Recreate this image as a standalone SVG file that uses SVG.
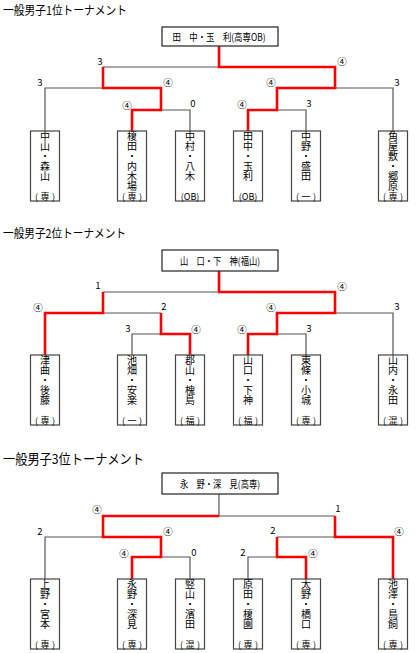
<svg xmlns="http://www.w3.org/2000/svg" width="420" height="653" viewBox="0 0 420 653">
<style>
text{font-family:"Noto Sans CJK JP","Noto Sans",sans-serif;fill:#000}
.title{font-size:12px}
.box{fill:#fff;stroke:#444;stroke-width:1.2}
.cbox{fill:#fff;stroke:#333;stroke-width:1.3}
.g{fill:none;stroke:#555;stroke-width:1.2}
.r{fill:none;stroke:#f00;stroke-width:2.6}
.v{font-size:10px;text-anchor:middle}
.lb{font-size:9px;text-anchor:middle}
.s{font-size:9.5px;text-anchor:middle}
.ch{font-size:10px;text-anchor:middle}
</style>
<rect width="420" height="653" fill="#fff"/>

<!-- Titles -->
<text class="title" x="3" y="14.5" textLength="124" lengthAdjust="spacingAndGlyphs">一般男子1位トーナメント</text>
<text class="title" x="3" y="238" textLength="123" lengthAdjust="spacingAndGlyphs">一般男子2位トーナメント</text>
<text class="title" x="3" y="464" style="font-size:13.5px" textLength="141" lengthAdjust="spacingAndGlyphs">一般男子3位トーナメント</text>

<!-- Connectors -->
<g id="connectors">
  <path class="g" d="M103,67H219 M45,131V88H103 M161,110H190V131 M335,88H393V131 M277,110H306V131"/>
  <path class="r" d="M132,131V110H161V88H103V67"/>
  <path class="r" d="M248,131V110H277V88H335V67H219V46"/>
  <path class="g" d="M103,292H219 M103,313H161 M132,355V334H161 M335,313H393V355 M277,334H306V355"/>
  <path class="r" d="M45,355V313H103V292"/>
  <path class="r" d="M190,355V334H161V313"/>
  <path class="r" d="M248,355V334H277V313H335V292H219V271"/>
  <path class="g" d="M219,494V516H335 M45,579V537H103 M161,557H190V579 M277,537H335 M248,579V557H277"/>
  <path class="r" d="M132,579V557H161V537H103V516H219"/>
  <path class="r" d="M306,579V557H277V537"/>
  <path class="r" d="M393,579V537H335V516"/>
</g>

<!-- Scores -->
<g id="scores">
  <text class="s" x="100" y="65">3</text><text class="s" x="342" y="64.5">④</text>
  <text class="s" x="40" y="86">3</text><text class="s" x="168" y="85.5">④</text>
  <text class="s" x="271" y="85.5">④</text><text class="s" x="397" y="86">3</text>
  <text class="s" x="127" y="108.5">④</text><text class="s" x="193" y="107">0</text>
  <text class="s" x="242" y="107.5">④</text><text class="s" x="309" y="107">3</text>

  <text class="s" x="98" y="289">1</text><text class="s" x="342" y="289.5">④</text>
  <text class="s" x="38" y="310.5">④</text><text class="s" x="164" y="310">2</text>
  <text class="s" x="271" y="310.5">④</text><text class="s" x="397" y="310">3</text>
  <text class="s" x="128" y="332">3</text><text class="s" x="196" y="332.5">④</text>
  <text class="s" x="242" y="332.5">④</text><text class="s" x="309" y="332">3</text>

  <text class="s" x="97" y="512.5">④</text><text class="s" x="338" y="512">1</text>
  <text class="s" x="40" y="535">2</text><text class="s" x="168" y="534.5">④</text>
  <text class="s" x="273" y="534">2</text><text class="s" x="399" y="534.5">④</text>
  <text class="s" x="124" y="556.5">④</text><text class="s" x="194" y="556">0</text>
  <text class="s" x="243" y="556">2</text><text class="s" x="313" y="556.5">④</text>
</g>

<!-- Champion boxes -->
<g id="champ1">
  <rect class="cbox" x="162" y="27" width="116" height="19"/>
  <text class="ch" x="219" y="40.5" textLength="93" lengthAdjust="spacingAndGlyphs">田　中・玉　利(高専OB)</text>
</g>
<g id="champ2">
  <rect class="cbox" x="162" y="250" width="116" height="21"/>
  <text class="ch" x="220" y="264.5" textLength="80" lengthAdjust="spacingAndGlyphs">山　口・下　神(福山)</text>
</g>
<g id="champ3">
  <rect class="cbox" x="162" y="473" width="116" height="21"/>
  <text class="ch" x="220" y="487.5" textLength="80" lengthAdjust="spacingAndGlyphs">永　野・深　見(高専)</text>
</g>

<!-- Bracket 1 players -->
<g id="b1p1" transform="translate(45,131)">
  <rect class="box" x="-14.5" y="0" width="29" height="70"/>
  <text class="v"><tspan x="0" y="8.8">中</tspan><tspan x="0" y="18.9">山</tspan><tspan x="0" y="29">・</tspan><tspan x="0" y="39.1">森</tspan><tspan x="0" y="49.2">山</tspan></text>
  <text class="lb" x="0" y="68.5" textLength="20" lengthAdjust="spacing">(専)</text>
</g>
<g id="b1p2" transform="translate(132,131)">
  <rect class="box" x="-14.5" y="0" width="29" height="70"/>
  <text class="v"><tspan x="0" y="8.8">榎</tspan><tspan x="0" y="18.9">田</tspan><tspan x="0" y="29">・</tspan><tspan x="0" y="39.1">内</tspan><tspan x="0" y="49.2">木</tspan><tspan x="0" y="59.3">場</tspan></text>
  <text class="lb" x="0" y="68.5" textLength="20" lengthAdjust="spacing">(専)</text>
</g>
<g id="b1p3" transform="translate(190,131)">
  <rect class="box" x="-14.5" y="0" width="29" height="70"/>
  <text class="v"><tspan x="0" y="8.8">中</tspan><tspan x="0" y="18.9">村</tspan><tspan x="0" y="29">・</tspan><tspan x="0" y="39.1">八</tspan><tspan x="0" y="49.2">木</tspan></text>
  <text class="lb" x="0" y="68.5">(OB)</text>
</g>
<g id="b1p4" transform="translate(248,131)">
  <rect class="box" x="-14.5" y="0" width="29" height="70"/>
  <text class="v"><tspan x="0" y="8.8">田</tspan><tspan x="0" y="18.9">中</tspan><tspan x="0" y="29">・</tspan><tspan x="0" y="39.1">玉</tspan><tspan x="0" y="49.2">利</tspan></text>
  <text class="lb" x="0" y="68.5">(OB)</text>
</g>
<g id="b1p5" transform="translate(306,131)">
  <rect class="box" x="-14.5" y="0" width="29" height="70"/>
  <text class="v"><tspan x="0" y="8.8">中</tspan><tspan x="0" y="18.9">野</tspan><tspan x="0" y="29">・</tspan><tspan x="0" y="39.1">盛</tspan><tspan x="0" y="49.2">田</tspan></text>
  <text class="lb" x="0" y="68.5" textLength="20" lengthAdjust="spacing">(一)</text>
</g>
<g id="b1p6" transform="translate(393,131)">
  <rect class="box" x="-14.5" y="0" width="29" height="70"/>
  <text class="v"><tspan x="0" y="8.8">角</tspan><tspan x="0" y="18.9">屋</tspan><tspan x="0" y="29">敷</tspan><tspan x="0" y="39.1">・</tspan><tspan x="0" y="49.2">郷</tspan><tspan x="0" y="59.3">原</tspan></text>
  <text class="lb" x="0" y="68.5" textLength="20" lengthAdjust="spacing">(専)</text>
</g>

<!-- Bracket 2 players -->
<g id="b2p1" transform="translate(45,355)">
  <rect class="box" x="-14.5" y="0" width="29" height="70"/>
  <text class="v"><tspan x="0" y="8.8">津</tspan><tspan x="0" y="18.9">曲</tspan><tspan x="0" y="29">・</tspan><tspan x="0" y="39.1">後</tspan><tspan x="0" y="49.2">藤</tspan></text>
  <text class="lb" x="0" y="68.5" textLength="20" lengthAdjust="spacing">(専)</text>
</g>
<g id="b2p2" transform="translate(132,355)">
  <rect class="box" x="-14.5" y="0" width="29" height="70"/>
  <text class="v"><tspan x="0" y="8.8">池</tspan><tspan x="0" y="18.9">畑</tspan><tspan x="0" y="29">・</tspan><tspan x="0" y="39.1">安</tspan><tspan x="0" y="49.2">楽</tspan></text>
  <text class="lb" x="0" y="68.5" textLength="20" lengthAdjust="spacing">(一)</text>
</g>
<g id="b2p3" transform="translate(190,355)">
  <rect class="box" x="-14.5" y="0" width="29" height="70"/>
  <text class="v"><tspan x="0" y="8.8">郡</tspan><tspan x="0" y="18.9">山</tspan><tspan x="0" y="29">・</tspan><tspan x="0" y="39.1">槐</tspan><tspan x="0" y="49.2">島</tspan></text>
  <text class="lb" x="0" y="68.5" textLength="20" lengthAdjust="spacing">(福)</text>
</g>
<g id="b2p4" transform="translate(248,355)">
  <rect class="box" x="-14.5" y="0" width="29" height="70"/>
  <text class="v"><tspan x="0" y="8.8">山</tspan><tspan x="0" y="18.9">口</tspan><tspan x="0" y="29">・</tspan><tspan x="0" y="39.1">下</tspan><tspan x="0" y="49.2">神</tspan></text>
  <text class="lb" x="0" y="68.5" textLength="20" lengthAdjust="spacing">(福)</text>
</g>
<g id="b2p5" transform="translate(306,355)">
  <rect class="box" x="-14.5" y="0" width="29" height="70"/>
  <text class="v"><tspan x="0" y="8.8">東</tspan><tspan x="0" y="18.9">條</tspan><tspan x="0" y="29">・</tspan><tspan x="0" y="39.1">小</tspan><tspan x="0" y="49.2">城</tspan></text>
  <text class="lb" x="0" y="68.5" textLength="20" lengthAdjust="spacing">(専)</text>
</g>
<g id="b2p6" transform="translate(393,355)">
  <rect class="box" x="-14.5" y="0" width="29" height="70"/>
  <text class="v"><tspan x="0" y="8.8">山</tspan><tspan x="0" y="18.9">内</tspan><tspan x="0" y="29">・</tspan><tspan x="0" y="39.1">永</tspan><tspan x="0" y="49.2">田</tspan></text>
  <text class="lb" x="0" y="68.5" textLength="20" lengthAdjust="spacing">(混)</text>
</g>

<!-- Bracket 3 players -->
<g id="b3p1" transform="translate(45,579)">
  <rect class="box" x="-14.5" y="0" width="29" height="70"/>
  <text class="v"><tspan x="0" y="8.8">上</tspan><tspan x="0" y="18.9">野</tspan><tspan x="0" y="29">・</tspan><tspan x="0" y="39.1">宮</tspan><tspan x="0" y="49.2">本</tspan></text>
  <text class="lb" x="0" y="68.5" textLength="20" lengthAdjust="spacing">(専)</text>
</g>
<g id="b3p2" transform="translate(132,579)">
  <rect class="box" x="-14.5" y="0" width="29" height="70"/>
  <text class="v"><tspan x="0" y="8.8">永</tspan><tspan x="0" y="18.9">野</tspan><tspan x="0" y="29">・</tspan><tspan x="0" y="39.1">深</tspan><tspan x="0" y="49.2">見</tspan></text>
  <text class="lb" x="0" y="68.5" textLength="20" lengthAdjust="spacing">(専)</text>
</g>
<g id="b3p3" transform="translate(190,579)">
  <rect class="box" x="-14.5" y="0" width="29" height="70"/>
  <text class="v"><tspan x="0" y="8.8">竪</tspan><tspan x="0" y="18.9">山</tspan><tspan x="0" y="29">・</tspan><tspan x="0" y="39.1">濱</tspan><tspan x="0" y="49.2">田</tspan></text>
  <text class="lb" x="0" y="68.5" textLength="20" lengthAdjust="spacing">(混)</text>
</g>
<g id="b3p4" transform="translate(248,579)">
  <rect class="box" x="-14.5" y="0" width="29" height="70"/>
  <text class="v"><tspan x="0" y="8.8">原</tspan><tspan x="0" y="18.9">田</tspan><tspan x="0" y="29">・</tspan><tspan x="0" y="39.1">榎</tspan><tspan x="0" y="49.2">園</tspan></text>
  <text class="lb" x="0" y="68.5" textLength="20" lengthAdjust="spacing">(専)</text>
</g>
<g id="b3p5" transform="translate(306,579)">
  <rect class="box" x="-14.5" y="0" width="29" height="70"/>
  <text class="v"><tspan x="0" y="8.8">太</tspan><tspan x="0" y="18.9">野</tspan><tspan x="0" y="29">・</tspan><tspan x="0" y="39.1">橋</tspan><tspan x="0" y="49.2">口</tspan></text>
  <text class="lb" x="0" y="68.5" textLength="20" lengthAdjust="spacing">(専)</text>
</g>
<g id="b3p6" transform="translate(393,579)">
  <rect class="box" x="-14.5" y="0" width="29" height="70"/>
  <text class="v"><tspan x="0" y="8.8">池</tspan><tspan x="0" y="18.9">澤</tspan><tspan x="0" y="29">・</tspan><tspan x="0" y="39.1">鳥</tspan><tspan x="0" y="49.2">飼</tspan></text>
  <text class="lb" x="0" y="68.5" textLength="20" lengthAdjust="spacing">(専)</text>
</g>
</svg>
